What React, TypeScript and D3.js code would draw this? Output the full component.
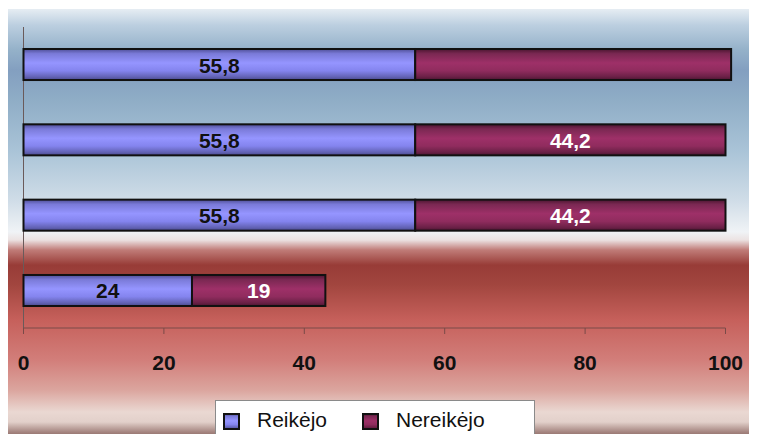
import React from "react";
import * as d3 from "d3";

const categories = ["A", "B", "C", "D"];
const reikejo = [55.8, 55.8, 55.8, 24];
const nereikejo = [45, 44.2, 44.2, 19];
const reikejoLabels = ["55,8", "55,8", "55,8", "24"];
const nereikejoLabels = ["", "44,2", "44,2", "19"];
const xTicks = [0, 20, 40, 60, 80, 100];
const seriesNames = ["Reikėjo", "Nereikėjo"];

const W = 757;
const H = 442;

const bgStops: [number, string][] = [
  [9, "#e6edf3"],
  [25, "#bccfe0"],
  [50, "#94b1c9"],
  [70, "#839fc0"],
  [100, "#8fadc6"],
  [150, "#a9c3d7"],
  [200, "#cfdce7"],
  [232, "#f0f3f6"],
  [240, "#ece2e2"],
  [250, "#c07c78"],
  [265, "#983c37"],
  [285, "#a2463f"],
  [320, "#c6605b"],
  [360, "#d27e7a"],
  [390, "#dba59e"],
  [412, "#ead8d2"],
  [422, "#e2d0ca"],
  [432, "#a58580"],
  [442, "#6e4e48"],
];

export default function App() {
  const x = d3.scaleLinear().domain([0, 100]).range([23.5, 725.5]);
  const y = d3.scaleBand().domain(categories).range([27, 328]).paddingInner(0.588).paddingOuter(0.292);
  const bh = y.bandwidth();
  const axisY = 328;

  return (
    <div style={{ margin: -8, width: W, height: H }}>
      <svg width={W} height={H} style={{ display: "block" }} fontFamily="Liberation Sans, Arial, sans-serif">
        <defs>
          <linearGradient id="bg" x1="0" y1="0" x2="0" y2={H} gradientUnits="userSpaceOnUse">
            {bgStops.map(([o, c], i) => (
              <stop key={i} offset={o / H} stopColor={c} />
            ))}
          </linearGradient>
          <linearGradient id="gp" x1="0" y1="0" x2="0" y2="1">
            <stop offset="0" stopColor="#4e4e96" />
            <stop offset="0.15" stopColor="#7a7ad8" />
            <stop offset="0.45" stopColor="#9595ff" />
            <stop offset="0.7" stopColor="#8484ee" />
            <stop offset="0.9" stopColor="#6262b4" />
            <stop offset="1" stopColor="#4a4a8c" />
          </linearGradient>
          <linearGradient id="gm" x1="0" y1="0" x2="0" y2="1">
            <stop offset="0" stopColor="#4a1530" />
            <stop offset="0.15" stopColor="#7a2852" />
            <stop offset="0.45" stopColor="#9e3068" />
            <stop offset="0.7" stopColor="#902c5e" />
            <stop offset="0.9" stopColor="#6a2046" />
            <stop offset="1" stopColor="#4a1530" />
          </linearGradient>
        </defs>
        <rect x={0} y={0} width={W} height={H} fill="#ffffff" />
        <rect x={6} y={9} width={W - 6} height={H - 9} fill="url(#bg)" />

        {/* axes */}
        <line x1={x(0)} x2={x(0)} y1={27} y2={334} stroke="#6a5a5a" strokeWidth={1} />
        <line x1={x(0)} x2={x(100)} y1={axisY} y2={axisY} stroke="#7a4a48" strokeWidth={1} />
        {xTicks.map((t) => (
          <g key={t}>
            <line x1={x(t)} x2={x(t)} y1={axisY} y2={axisY + 6} stroke="#7a4a48" />
            <text x={x(t)} y={370} textAnchor="middle" fontSize={21} fontWeight="bold" fill="#111">
              {t}
            </text>
          </g>
        ))}

        {/* bars */}
        {categories.map((c, i) => {
          const y0 = y(c) as number;
          const xa = x(0);
          const xb = x(reikejo[i]);
          const xc = x(reikejo[i] + nereikejo[i]);
          return (
            <g key={c}>
              <rect x={xa} y={y0} width={xb - xa} height={bh} fill="url(#gp)" stroke="#111" strokeWidth={2} />
              <rect x={xb} y={y0} width={xc - xb} height={bh} fill="url(#gm)" stroke="#111" strokeWidth={2} />
              <text x={(xa + xb) / 2} y={y0 + bh / 2 + 8} textAnchor="middle" fontSize={21} fontWeight="bold" fill="#111">
                {reikejoLabels[i]}
              </text>
              {nereikejoLabels[i] && (
                <text x={(xb + xc) / 2} y={y0 + bh / 2 + 8} textAnchor="middle" fontSize={21} fontWeight="bold" fill="#fff">
                  {nereikejoLabels[i]}
                </text>
              )}
            </g>
          );
        })}

        {/* legend */}
        <rect x={215.5} y={400.5} width={319} height={50} fill="#ffffff" stroke="#8a8a8a" strokeWidth={1} />
        {seriesNames.map((s, i) => {
          const mx = i === 0 ? 224 : 363;
          return (
            <g key={s}>
              <rect x={mx} y={414} width={15} height={15} fill={i === 0 ? "url(#gp)" : "url(#gm)"} stroke="#111" strokeWidth={2} />
              <text x={mx + 33} y={427} fontSize={21} fill="#111">
                {s}
              </text>
            </g>
          );
        })}
      </svg>
    </div>
  );
}
